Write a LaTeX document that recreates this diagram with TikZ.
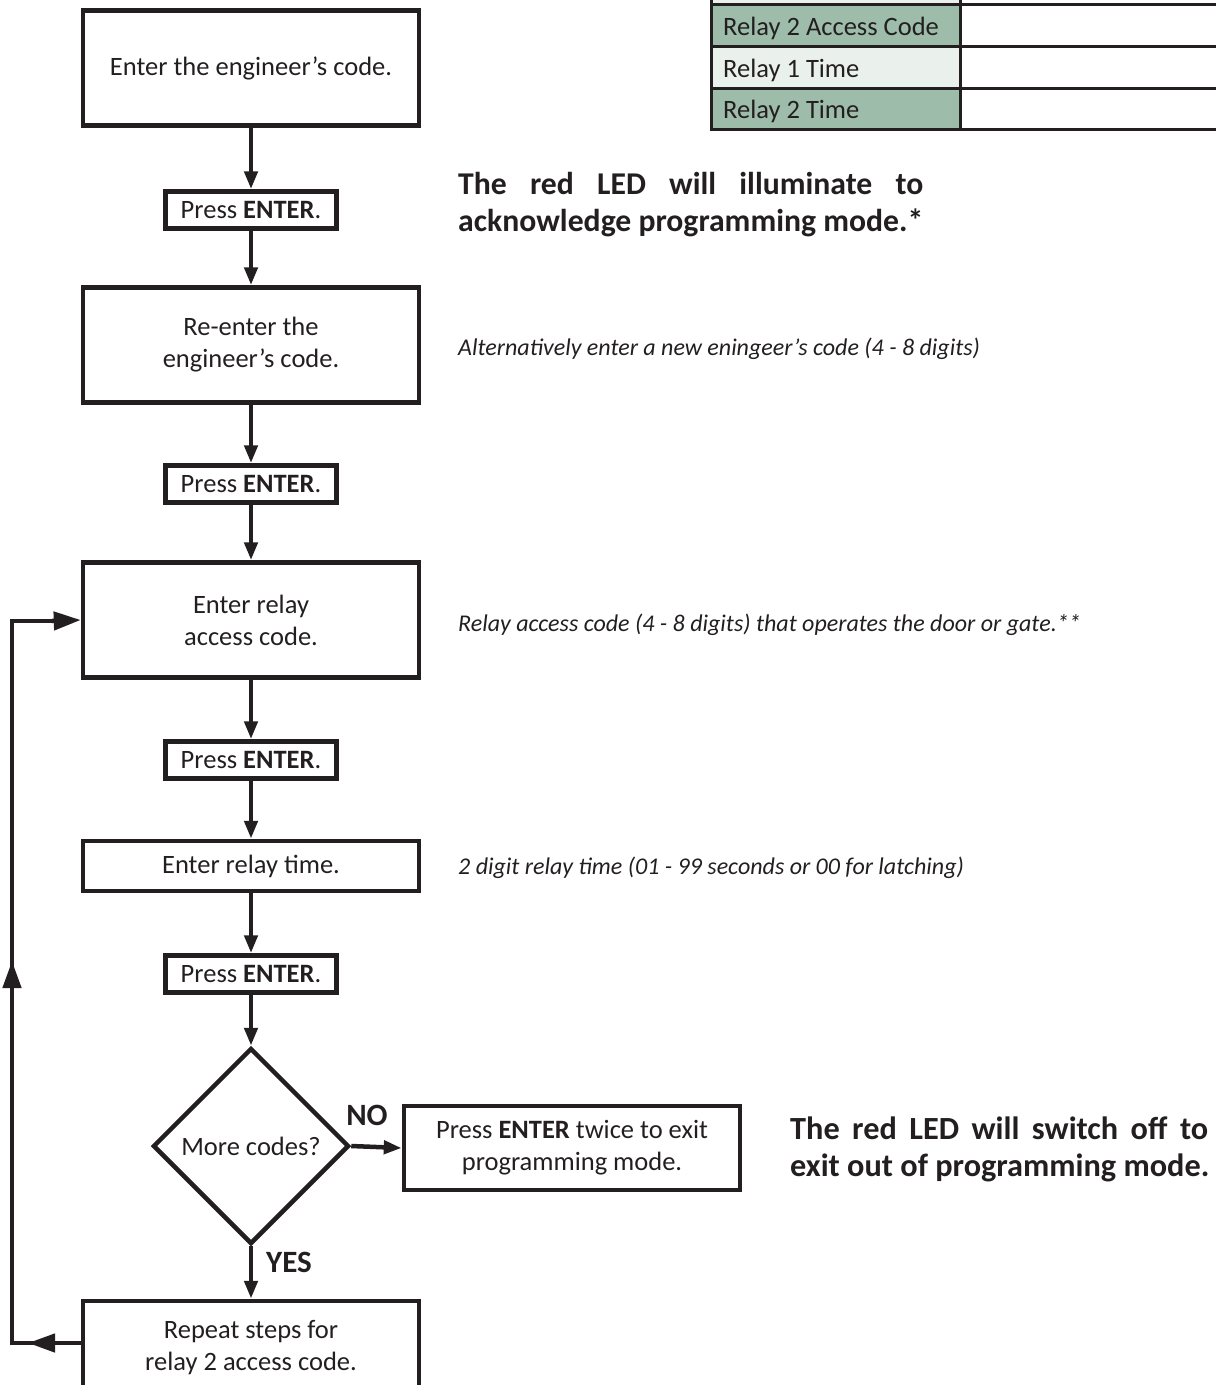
\documentclass[tikz,border=0pt]{standalone}
\usepackage{fontspec}
\setmainfont{Carlito}
\usetikzlibrary{arrows.meta,shapes.geometric,calc}
\definecolor{ink}{HTML}{231F20}
\definecolor{dkgreen}{HTML}{9DBCAA}
\definecolor{ltgreen}{HTML}{EAF0EC}
\begin{document}
\begin{tikzpicture}[x=1pt,y=-1pt,
  every node/.style={text=ink},
  bigbox/.style={draw=ink, line width=4.5pt, minimum width=336pt, minimum height=115pt,
    align=center, inner sep=0pt, font=\fontsize{26.5}{32}\selectfont},
  midbox/.style={bigbox, minimum height=84pt},
  slimbox/.style={bigbox, minimum height=50pt},
  pressbox/.style={draw=ink, line width=4.5pt, minimum width=171pt, minimum height=37pt,
    inner sep=0pt, font=\fontsize{26.5}{32}\selectfont},
  decision/.style={draw=ink, line width=4.5pt, diamond, aspect=1, minimum width=196pt,
    minimum height=196pt, inner sep=0pt, font=\fontsize{26.5}{32}\selectfont},
  flow/.style={draw=ink, line width=4.5pt, -{Triangle[length=18pt,width=13pt]}},
  loopline/.style={draw=ink, line width=4.5pt},
  bigtip/.style={draw=ink, line width=4.5pt, -{Triangle[length=27pt,width=18pt]}},
  note/.style={anchor=base west, inner sep=0pt, font=\itshape\fontsize{24}{28}\selectfont},
  led/.style={anchor=base west, inner sep=0pt, font=\bfseries\fontsize{31.7}{37}\selectfont},
  ledb/.style={anchor=base west, inner sep=0pt, font=\bfseries\fontsize{32.3}{37}\selectfont},
  yn/.style={inner sep=0pt, font=\bfseries\fontsize{31}{34}\selectfont},
  cell/.style={anchor=base west, inner sep=0pt, font=\fontsize{26.5}{30}\selectfont},
  tline/.style={draw=ink, line width=3pt}
]
\useasboundingbox (0,0) rectangle (1216,1385);

% table
\fill[ltgreen] (711,-10) rectangle (960,4);
\fill[dkgreen] (711,4) rectangle (960,46);
\fill[ltgreen] (711,46) rectangle (960,88);
\fill[dkgreen] (711,88) rectangle (960,129);
\draw[tline] (711,-10) -- (711,129) -- (1220,129);
\draw[tline] (960,-10) -- (960,129);
\draw[tline] (711,4) -- (1220,4);
\draw[tline] (711,46) -- (1220,46);
\draw[tline] (711,88) -- (1220,88);
\node[cell] (t1) at (723,35) {Relay 2 Access Code};
\node[cell] (t2) at (723,77) {Relay 1 Time};
\node[cell] (t3) at (723,118) {Relay 2 Time};

% flow boxes
\node[bigbox] (b1) at (251,68) {Enter the engineer’s code.};
\node[pressbox] (p1) at (251,210) {Press \textbf{ENTER}.};
\node[bigbox] (b2) at (251,345) {Re-enter the\\engineer’s code.};
\node[pressbox] (p2) at (251,484) {Press \textbf{ENTER}.};
\node[bigbox] (b3) at (251,620) {Enter relay\\access code.};
\node[pressbox] (p3) at (251,760) {Press \textbf{ENTER}.};
\node[slimbox] (b4) at (251,866) {Enter relay time.};
\node[pressbox] (p4) at (251,974) {Press \textbf{ENTER}.};
\node[decision] (dec) at (251,1146) {More codes?};
\node[midbox] (exit) at (572,1148) {Press \textbf{ENTER} twice to exit\\programming mode.};
\node[bigbox, minimum height=94pt] (rep) at (251,1348) {Repeat steps for\\relay 2 access code.};

\draw[flow] (b1) -- (p1);
\draw[flow] (p1) -- (b2);
\draw[flow] (b2) -- (p2);
\draw[flow] (p2) -- (b3);
\draw[flow] (b3) -- (p3);
\draw[flow] (p3) -- (b4);
\draw[flow] (b4) -- (p4);
\draw[flow] (p4) -- (dec.north);
\draw[flow] (dec.east) -- (exit.west);
\draw[flow] (dec.south) -- (rep.north);

\node[yn] (no) at (367,1115) {NO};
\node[yn] (yes) at (289,1262) {YES};

% loop back
\coordinate (lb) at (12,1343);
\coordinate (lt) at (12,621);
\draw[loopline] (rep.west |- lb) -- (lb) -- (lt) -- ($(lt)+(45,0)$);
\draw[bigtip] ($(lt)+(40,0)$) -- (b3.west);
\draw[bigtip] ($(lb)+(45,0)$) -- ($(lb)+(16,0)$);
\draw[bigtip] ($(lb)+(0,-340)$) -- ($(lb)+(0,-382)$);

% notes
\node[led] (l1) at (458,194) {\makebox[465pt][s]{The red LED will illuminate to}};
\node[led] (l2) at (458,231) {acknowledge programming mode.*};
\node[note] (n1) at (458,355) {Alternatively enter a new eningeer’s code (4 - 8 digits)};
\node[note] (n2) at (458,631) {Relay access code (4 - 8 digits) that operates the door or gate.**};
\node[note] (n3) at (458,874) {2 digit relay time (01 - 99 seconds or 00 for latching)};
\node[ledb] (l3) at (790,1139) {\makebox[418pt][s]{The red LED will switch off to}};
\node[ledb] (l4) at (790,1176) {exit out of programming mode.};
\end{tikzpicture}
\end{document}
